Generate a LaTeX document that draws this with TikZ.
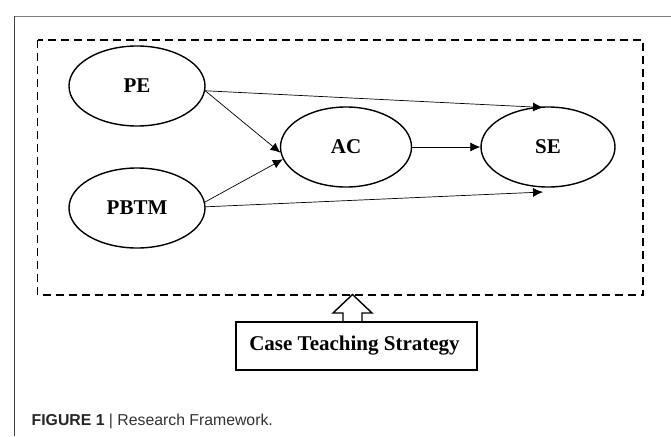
\documentclass[tikz,border=0pt]{standalone}
\usepackage{fontspec}
\setmainfont{Liberation Serif}
\newfontfamily\capfont{Liberation Sans}
\usetikzlibrary{arrows.meta,shapes.geometric}
\definecolor{capgray}{HTML}{333333}
\begin{document}
\begin{tikzpicture}[x=1pt,y=-1pt,
  construct/.style={draw,ellipse,line width=1.4pt,inner sep=0pt,font=\fontsize{21}{24}\selectfont\bfseries},
  link/.style={line width=0.7pt,-{Latex[length=10pt,width=9pt]}},
  frame/.style={line width=1.5pt}]
\useasboundingbox (0,0) rectangle (671,436);
\fill[white] (0,0) rectangle (671,436);
\draw[frame,gray] (14.5,16.3) -- (671,16.3);
\draw[frame,black!75] (14.5,16.3) -- (14.5,436);
\draw[line width=1.3pt,dash pattern=on 8pt off 5pt] (37.5,40) rectangle (643,295);
\node[construct,minimum width=136pt,minimum height=80pt] (PE) at (137,86) {PE};
\node[construct,minimum width=136pt,minimum height=80pt] (PBTM) at (137,208) {PBTM};
\node[construct,minimum width=131pt,minimum height=80pt] (AC) at (346,147) {AC};
\node[construct,minimum width=134pt,minimum height=80pt] (SE) at (548,147) {SE};
\coordinate (seTop) at (543,107.5);
\coordinate (seBot) at (543,192);
\draw[link] (PE.-4) -- (seTop);
\draw[link] (PE.-4) -- (AC.185);
\draw[link] (PBTM.5) -- (AC.191);
\draw[link] (PBTM.1) -- (seBot);
\draw[link] (AC.east) -- (SE.west);
\draw[line width=1.4pt,line join=miter] (343,322) -- (343,313) -- (333,313) -- (352.5,294.5) -- (372,313) -- (362,313) -- (362,322);
\node[draw,line width=1.4pt,minimum width=241pt,minimum height=48pt,inner sep=0pt,font=\fontsize{21}{24}\selectfont\bfseries] (CTS) at (356.5,346) {\raisebox{2pt}{Case Teaching Strategy}\hspace*{4pt}};
\node[anchor=base west,inner sep=0pt,font=\capfont\fontsize{15.8}{18}\selectfont,text=capgray] (cap) at (31.5,425) {\textbf{\color{black!85}FIGURE 1} | Research Framework.};
\end{tikzpicture}
\end{document}
